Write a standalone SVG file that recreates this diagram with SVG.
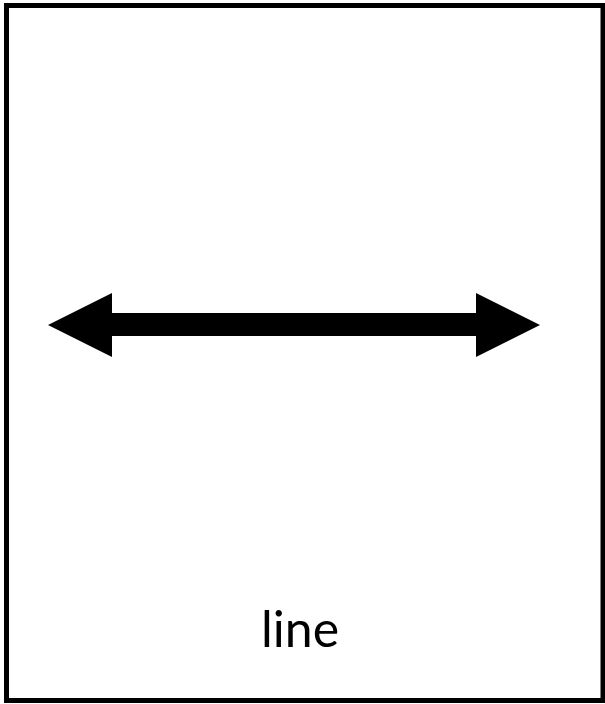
<svg xmlns="http://www.w3.org/2000/svg" width="605" height="704" viewBox="0 0 605 704">
<style>
.frame{fill:#fff;stroke:#000;stroke-width:5}
.arrow{fill:#000}
.label{font-family:Lato,"Open Sans","DejaVu Sans",sans-serif;font-size:50px;fill:#000;text-anchor:middle}
</style>
<rect width="605" height="704" fill="#fff"/>
<g id="frame"><rect class="frame" x="6.5" y="5.5" width="596.5" height="695"/></g>
<g id="connectors">
<polygon class="arrow" points="48,325 112,293 112,313 476,313 476,293 540,325 476,357 476,336 112,336 112,357"/>
</g>
<g id="label"><text class="label" x="300" y="647">line</text></g>
</svg>
